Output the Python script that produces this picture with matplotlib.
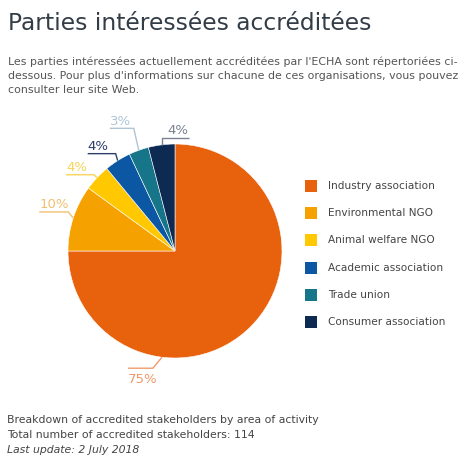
import matplotlib
matplotlib.use("Agg")
import matplotlib.pyplot as plt
import numpy as np

# ---- data ----
categories = ["Industry association", "Environmental NGO", "Animal welfare NGO",
              "Academic association", "Trade union", "Consumer association"]
shares = [75, 10, 4, 4, 3, 4]
pct_labels = ["75%", "10%", "4%", "4%", "3%", "4%"]

title = "Parties intéressées accréditées"
intro_lines = ["Les parties intéressées actuellement accréditées par l'ECHA sont répertoriées ci-",
               "dessous. Pour plus d'informations sur chacune de ces organisations, vous pouvez",
               "consulter leur site Web."]
foot1 = "Breakdown of accredited stakeholders by area of activity"
foot2 = "Total number of accredited stakeholders: 114"
foot3 = "Last update: 2 July 2018"

# ---- styles ----
colors = ["#E8610D", "#F5A200", "#FFC800", "#0B57A4", "#167589", "#0C2A52"]
label_colors = ["#EE9A6A", "#F0C070", "#F7D45A", "#2B3F6A", "#AFC4D6", "#7A838F"]

W, H = 474, 461
fig = plt.figure(figsize=(W / 100, H / 100), dpi=100)
ax = fig.add_axes([0, 0, 1, 1])

def Y(py):
    return H - py

cx, cy, R = 175, 251, 107
wedges, _ = ax.pie(shares, colors=colors, startangle=90, counterclock=False,
                   center=(cx, Y(cy)), radius=R,
                   wedgeprops=dict(edgecolor="white", linewidth=0.4))
ax.set_xlim(0, W)
ax.set_ylim(0, H)
ax.set_aspect("equal")
ax.axis("off")

# label layout: (anchor angle override or None, elbow dx, elbow dy (px, down +), line length, text above?)
layout = [
    (-97.0, -9, 11, -25, False),
    (None, -5, -6, -29, True),
    (None, -3, -3, -28, True),
    (None, -2, -7, -28, True),
    (None, -5, -22, -24, True),
    (None, 0, -7, 27, True),
]

for w, lab, lc, lay in zip(wedges, pct_labels, label_colors, layout):
    ang_override, edx, edy, llen, above = lay
    ang = ang_override if ang_override is not None else (w.theta1 + w.theta2) / 2
    ex = cx + R * np.cos(np.radians(ang))
    ey = cy - R * np.sin(np.radians(ang))
    bx, by = ex + edx, ey + edy
    fx = bx + llen
    ax.plot([ex, bx, fx], [Y(ey), Y(by), Y(by)], color=lc, lw=1.0,
            solid_capstyle="butt")
    tx = min(bx, fx)
    if llen > 0:
        tx = bx + 6
    ty = by - 7 if above else by + 11
    ax.text(tx, Y(ty), lab, color=lc, fontsize=9.5, ha="left", va="center",
            family="DejaVu Sans")

# legend
leg_x, leg_y0, leg_dy = 305, 186, 27.2
for i, (c, name) in enumerate(zip(colors, categories)):
    yy = leg_y0 + i * leg_dy
    ax.add_patch(plt.Rectangle((leg_x, Y(yy) - 6), 12, 12, color=c, lw=0))
    ax.text(leg_x + 23, Y(yy), name, color="#444444", fontsize=7.6,
            ha="left", va="center", family="DejaVu Sans")

# texts
ax.text(8, Y(24), title, color="#333D47", fontsize=16.8, ha="left", va="center",
        family="DejaVu Sans")
for i, line in enumerate(intro_lines):
    ax.text(8, Y(61.5 + i * 14.3), line, color="#555555", fontsize=7.9,
            ha="left", va="center", family="DejaVu Sans")
ax.text(7, Y(420), foot1, color="#444444", fontsize=7.85, ha="left", va="center",
        family="DejaVu Sans")
ax.text(7, Y(435), foot2, color="#444444", fontsize=7.85, ha="left", va="center",
        family="DejaVu Sans")
ax.text(7, Y(450), foot3, color="#444444", fontsize=7.85, ha="left", va="center",
        family="DejaVu Sans", style="italic")

fig.savefig("out.png", dpi=100, facecolor="white")
